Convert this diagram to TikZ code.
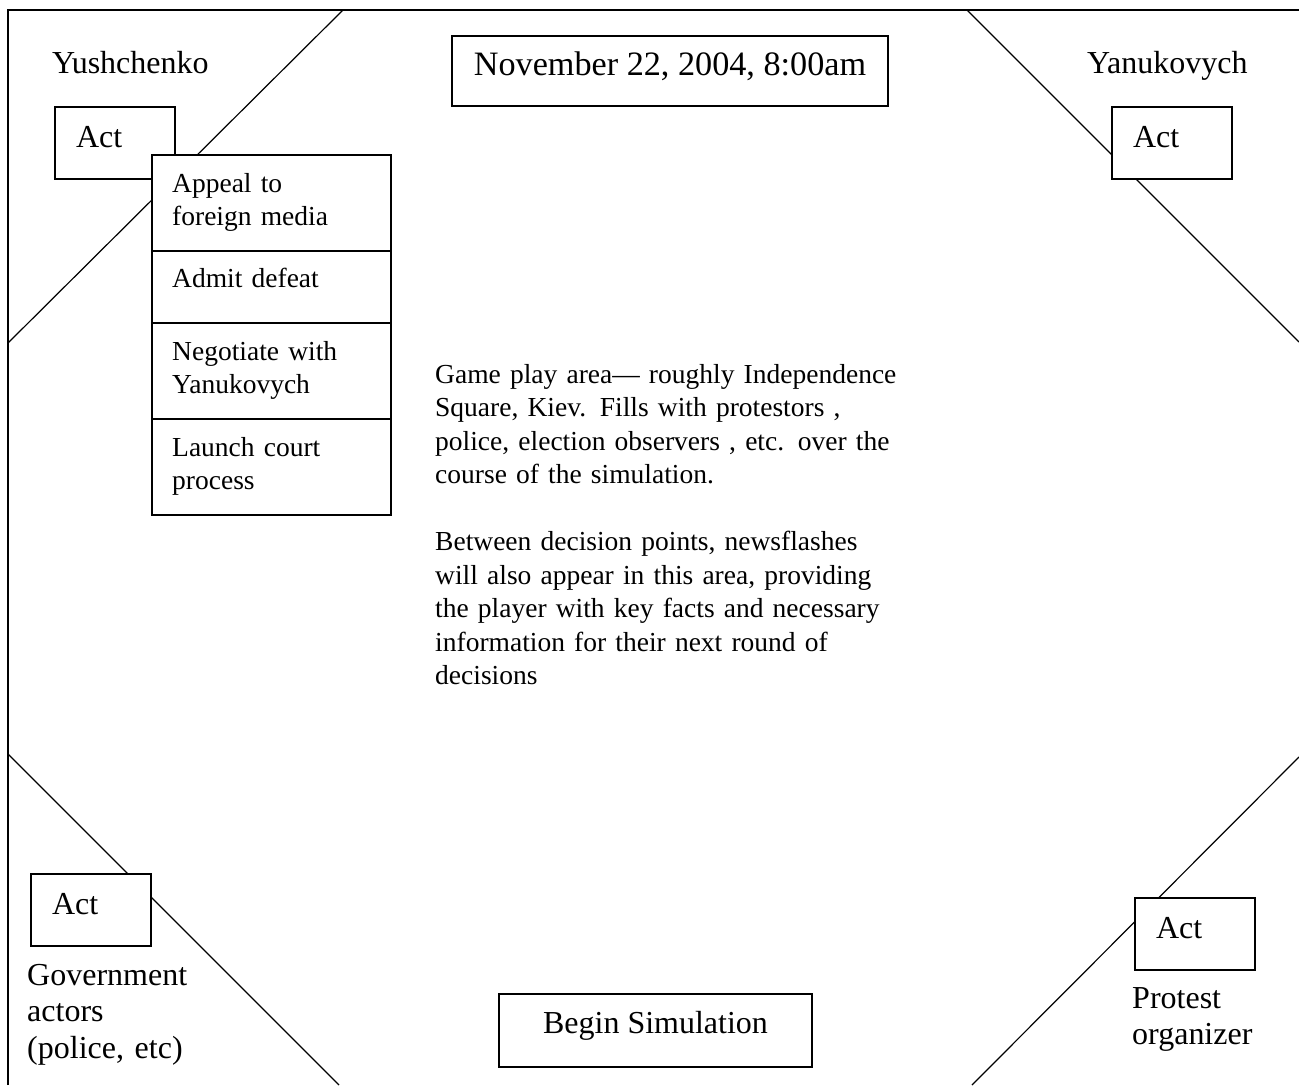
\documentclass[tikz,border=0pt]{standalone}
\usepackage{fontspec}
\setmainfont{Liberation Serif}
\usetikzlibrary{positioning}

\newcommand{\largetxt}{\fontsize{32}{36.5}\selectfont}
\newcommand{\datetxt}{\fontsize{34.2}{38}\selectfont}
\newcommand{\smalltxt}{\fontsize{27.5}{33.5}\selectfont}

\begin{document}
\begin{tikzpicture}[x=1pt, y=-1pt,
    frame/.style={line width=2pt},
    diag/.style={line width=1.2pt},
    box/.style={rectangle, draw, fill=white, line width=2pt, outer sep=0pt, inner sep=0pt},
    act/.style={box, anchor=north west, minimum width=120pt, minimum height=72pt, text width=78pt, inner xsep=21pt, text height=21pt, text depth=13pt, align=left, font=\largetxt},
    optbox/.style={box, anchor=north west, minimum width=239pt},
    opttext/.style={anchor=base west, inner sep=0pt, text width=210pt, align=left, font=\smalltxt},
    who/.style={anchor=base west, inner sep=0pt, align=left, font=\largetxt}
]
    \useasboundingbox (0,0) rectangle (1299,1085);

    % play field and the four corner zones
    \draw[frame] (8,1085) -- (8,10) -- (1299,10);
    \draw[diag] (8,343) -- (343,10);
    \draw[diag] (967,10) -- (1299,342);
    \draw[diag] (8,754) -- (339,1085);
    \draw[diag] (972,1085) -- (1299,757);

    \node[box, minimum width=436pt, minimum height=70pt, text height=22pt, text depth=14pt, font=\datetxt] (date) at (670,71) {November 22, 2004, 8:00am};

    \node[who] (yush) at (52,73) {Yushchenko};
    \node[who] (yanu) at (1087,73) {Yanukovych};
    \node[who, text width=200pt] (gov) at (27,985) {Government\\actors\\(police, etc)};
    \node[who, text width=160pt] (protest) at (1132,1008) {Protest\\organizer};

    \node[act] (actY) at (55,107) {Act};
    \node[act] (actV) at (1112,107) {Act};
    \node[act] (actG) at (31,874) {Act};
    \node[act] (actP) at (1135,898) {Act};

    % action menu
    \node[optbox, minimum height=96pt] (opt1) at (152,155) {};
    \node[optbox, minimum height=72pt, below=0pt of opt1] (opt2) {};
    \node[optbox, minimum height=96pt, below=0pt of opt2] (opt3) {};
    \node[optbox, minimum height=96pt, below=0pt of opt3] (opt4) {};
    \node[opttext] (appeal) at ([shift={(20,37)}]opt1.north west) {Appeal to\\foreign media};
    \node[opttext] (defeat) at ([shift={(20,36)}]opt2.north west) {Admit defeat};
    \node[opttext] (negot) at ([shift={(20,37)}]opt3.north west) {Negotiate with\\Yanukovych};
    \node[opttext] (court) at ([shift={(20,37)}]opt4.north west) {Launch court\\process};

    \node[opttext, text width=480pt] (area) at (435,383) {Game play area— roughly Independence\\Square, Kiev. Fills with protestors ,\\police, election observers , etc. over the\\course of the simulation.\\[33.5pt]Between decision points, newsflashes\\will also appear in this area, providing\\the player with key facts and necessary\\information for their next round of\\decisions};

    \node[box, minimum width=313pt, minimum height=73pt, text height=22pt, text depth=17pt, font=\largetxt] (begin) at (655.5,1030.5) {Begin Simulation};
\end{tikzpicture}
\end{document}
